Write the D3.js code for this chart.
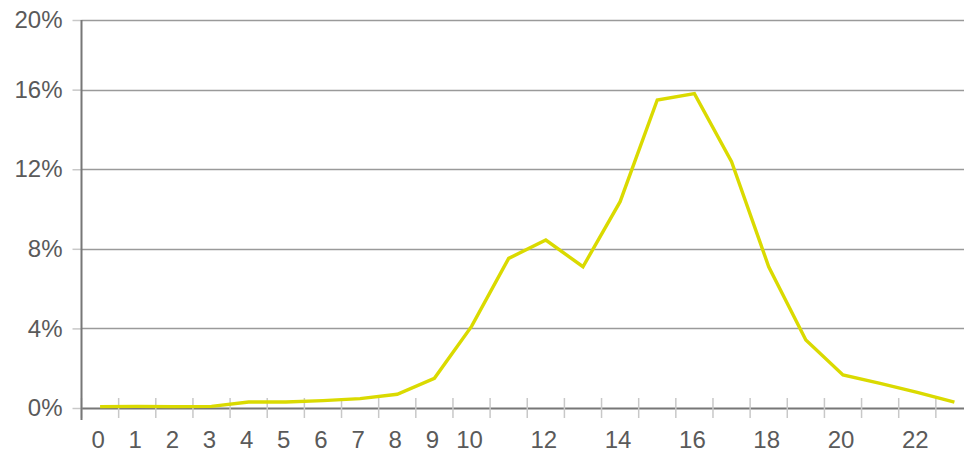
<!DOCTYPE html>
<html>
<head>
<meta charset="utf-8">
<script src="https://cdn.jsdelivr.net/npm/d3@7"></script>
<style>
  body { margin: 0; background: #fff; }
  text { font-family: "Liberation Sans", Arial, sans-serif; fill: #5a5a5a; }
</style>
</head>
<body>
<div id="chart"></div>
<script>
// hours of the day and share of activity per hour (%)
const hours = d3.range(0, 24);
const shares = [0.07, 0.08, 0.07, 0.08, 0.3, 0.3, 0.37, 0.47, 0.69, 1.49,
                4.1, 7.52, 8.44, 7.1, 10.37, 15.48, 15.8, 12.38, 7.1, 3.42,
                1.66, 1.24, 0.79, 0.29];
const yTicks = [0, 4, 8, 12, 16, 19.5];
const xLabels = [0, 1, 2, 3, 4, 5, 6, 7, 8, 9, 10, 12, 14, 16, 18, 20, 22];

const width = 964;
const height = 453;
const margin = { top: 20, right: -9, bottom: 45, left: 81.5 };

const svg = d3.select("#chart")
    .append("svg")
    .attr("width", width)
    .attr("height", height);

const x = d3.scaleBand()
    .domain(hours)
    .range([margin.left, width - margin.right]);

const y = d3.scaleLinear()
    .domain([0, 19.5])
    .range([height - margin.bottom, margin.top]);

// horizontal grid lines
svg.selectAll(".grid")
    .data(yTicks)
    .enter()
    .append("line")
    .attr("class", "grid")
    .attr("x1", margin.left)
    .attr("x2", width - margin.right)
    .attr("y1", d => Math.round(y(d)) + 0.5)
    .attr("y2", d => Math.round(y(d)) + 0.5)
    .attr("stroke", d => d === 0 ? "#777" : "#9a9a9a")
    .attr("stroke-width", d => d === 0 ? 2 : 1.6);

// y ticks + labels
const yAxis = d3.axisLeft(y)
    .tickValues(yTicks)
    .tickSize(9)
    .tickPadding(10)
    .tickFormat(d => d3.format(".0f")(d) + "%");

const gy = svg.append("g")
    .attr("transform", `translate(${margin.left},0)`)
    .call(yAxis);
gy.select(".domain").remove();
gy.selectAll(".tick line").attr("stroke", "#c8c8c8").attr("stroke-width", 1.5);
gy.selectAll(".tick text")
    .style("font-size", "24px")
    .attr("fill", "#5a5a5a");

// x ticks on band boundaries
svg.selectAll(".xtick")
    .data(hours)
    .enter()
    .append("line")
    .attr("class", "xtick")
    .attr("x1", d => x(d))
    .attr("x2", d => x(d))
    .attr("y1", y(0) - 10)
    .attr("y2", y(0) + 10)
    .attr("stroke", "#c8c8c8")
    .attr("stroke-width", 1.5);

// x labels
svg.selectAll(".xlabel")
    .data(xLabels)
    .enter()
    .append("text")
    .attr("class", "xlabel")
    .attr("x", d => x(d) + x.bandwidth() / 2 - 2)
    .attr("y", height - 5)
    .attr("text-anchor", "middle")
    .style("font-size", "24px")
    .text(d => d);

// y axis line
svg.append("line")
    .attr("x1", margin.left)
    .attr("x2", margin.left)
    .attr("y1", y(19.5))
    .attr("y2", y(0) + 12)
    .attr("stroke", "#777")
    .attr("stroke-width", 2);

// data line
const line = d3.line()
    .x((d, i) => x(hours[i]) + x.bandwidth() / 2)
    .y(d => y(d));

svg.append("path")
    .datum(shares)
    .attr("fill", "none")
    .attr("stroke", "#dada00")
    .attr("stroke-width", 3.4)
    .attr("stroke-linejoin", "miter")
    .attr("d", line);
</script>
</body>
</html>
